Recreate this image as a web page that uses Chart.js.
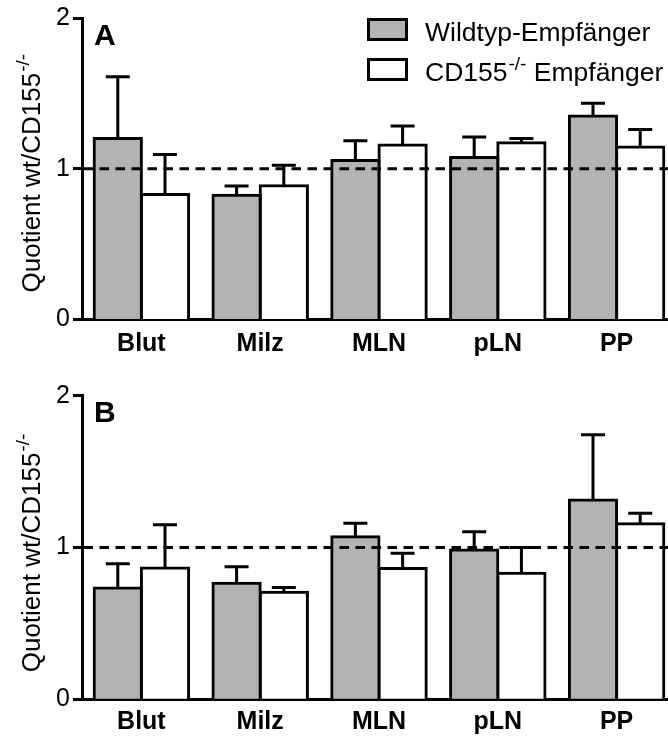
<!DOCTYPE html>
<html>
<head>
<meta charset="utf-8">
<script src="https://cdn.jsdelivr.net/npm/chart.js@4/dist/chart.umd.min.js"></script>
<style>
  html, body { margin: 0; padding: 0; background: #fff; }
  #wrap { position: relative; width: 668px; height: 736px; overflow: hidden; background: #fff; }
  #wrap canvas { position: absolute; left: 0; }
  #panelA { top: 0; }
  #panelB { top: 370px; }
</style>
</head>
<body>
<div id="wrap">
  <canvas id="panelA" width="700" height="370"></canvas>
  <canvas id="panelB" width="700" height="366"></canvas>
</div>
<script>
// Organs (x categories)
const organs = ['Blut', 'Milz', 'MLN', 'pLN', 'PP'];
const yTicks = [0, 1, 2];

// Panel A: mean ratio wt/CD155-/- and SEM
const aWildtyp = [1.20, 0.825, 1.055, 1.075, 1.35];
const aWildtypErr = [0.41, 0.06, 0.13, 0.135, 0.085];
const aKnockout = [0.83, 0.888, 1.158, 1.173, 1.145];
const aKnockoutErr = [0.265, 0.135, 0.125, 0.027, 0.115];

// Panel B: mean ratio wt/CD155-/- and SEM
const bWildtyp = [0.733, 0.764, 1.07, 0.983, 1.313];
const bWildtypErr = [0.16, 0.11, 0.09, 0.12, 0.43];
const bKnockout = [0.865, 0.706, 0.862, 0.83, 1.156];
const bKnockoutErr = [0.285, 0.03, 0.10, 0.17, 0.07];

const FONT = '"Liberation Sans", Arial, Helvetica, sans-serif';
const GREY = '#b3b3b3';
const LW = 3;

// upward-only SEM whiskers with a cap
const errorBars = {
  id: 'errorBars',
  afterDatasetsDraw(chart) {
    const { ctx } = chart;
    const y = chart.scales.y;
    chart.data.datasets.forEach((ds, di) => {
      const meta = chart.getDatasetMeta(di);
      meta.data.forEach((bar, i) => {
        const top = y.getPixelForValue(ds.data[i] + ds.errors[i]);
        const base = y.getPixelForValue(ds.data[i]);
        ctx.save();
        ctx.strokeStyle = '#000';
        ctx.lineWidth = LW;
        ctx.lineCap = 'butt';
        ctx.beginPath();
        ctx.moveTo(bar.x, base);
        ctx.lineTo(bar.x, top);
        ctx.moveTo(bar.x - 12, top);
        ctx.lineTo(bar.x + 12, top);
        ctx.stroke();
        ctx.restore();
      });
    });
  }
};

// dashed reference line at ratio 1
const refLine = {
  id: 'refLine',
  afterDatasetsDraw(chart) {
    const { ctx, chartArea } = chart;
    const yp = chart.scales.y.getPixelForValue(1);
    ctx.save();
    ctx.strokeStyle = '#000';
    ctx.lineWidth = LW;
    ctx.setLineDash([9.5, 6.5]);
    ctx.beginPath();
    ctx.moveTo(chartArea.left + 1.5, yp);
    ctx.lineTo(chartArea.right, yp);
    ctx.stroke();
    ctx.restore();
  }
};

// rotated y title with superscript, panel letter, optional legend
const decorations = {
  id: 'decorations',
  afterDraw(chart, args, opts) {
    const { ctx, chartArea } = chart;
    ctx.save();
    ctx.fillStyle = '#000';
    // y title
    ctx.save();
    ctx.translate(40, chartArea.bottom - 27);
    ctx.rotate(-Math.PI / 2);
    ctx.textAlign = 'left';
    ctx.textBaseline = 'alphabetic';
    ctx.font = '26px ' + FONT;
    const main = 'Quotient wt/CD155';
    ctx.fillText(main, 0, 0);
    const w = ctx.measureText(main).width;
    ctx.font = '19px ' + FONT;
    ctx.fillText('-/-', w + 1, -11);
    ctx.restore();

    // panel letter
    ctx.font = 'bold 30px ' + FONT;
    ctx.textAlign = 'left';
    ctx.textBaseline = 'alphabetic';
    ctx.fillText(opts.letter, 94, chartArea.top + opts.letterOffset);

    // legend
    if (opts.legend) {
      const rows = [
        { fill: GREY, y: 19.5, text: 'Wildtyp-Empfänger', sup: null, tail: '' },
        { fill: '#fff', y: 59.5, text: 'CD155', sup: '-/-', tail: ' Empfänger' }
      ];
      rows.forEach(r => {
        ctx.fillStyle = r.fill;
        ctx.fillRect(368.5, r.y, 38, 20);
        ctx.strokeStyle = '#000';
        ctx.lineWidth = LW;
        ctx.strokeRect(368.5, r.y, 38, 20);
        ctx.fillStyle = '#000';
        ctx.font = '26.5px ' + FONT;
        const base = r.y + 21;
        ctx.fillText(r.text, 425, base);
        if (r.sup) {
          let x = 425 + ctx.measureText(r.text).width + 1;
          ctx.font = '19px ' + FONT;
          ctx.fillText(r.sup, x, base - 11);
          x += ctx.measureText(r.sup).width;
          ctx.font = '26.5px ' + FONT;
          ctx.fillText(r.tail, x, base);
        }
      });
    }
    ctx.restore();
  }
};

function makePanel(id, wt, wtErr, ko, koErr, cfg) {
  const canvas = document.getElementById(id);
  const H = canvas.height;
  return new Chart(canvas, {
    type: 'bar',
    data: {
      labels: organs,
      datasets: [
        { label: 'Wildtyp-Empfänger', data: wt, errors: wtErr, backgroundColor: GREY },
        { label: 'CD155-/- Empfänger', data: ko, errors: koErr, backgroundColor: '#fff' }
      ]
    },
    options: {
      responsive: false,
      animation: false,
      devicePixelRatio: 1,
      layout: { padding: { top: cfg.top, right: 24, left: 0, bottom: 0 } },
      datasets: {
        bar: {
          borderColor: '#000',
          borderWidth: LW,
          borderSkipped: 'start',
          inflateAmount: LW / 2,
          categoryPercentage: 0.795,
          barPercentage: 1
        }
      },
      plugins: {
        legend: { display: false },
        tooltip: { enabled: false },
        decorations: { letter: cfg.letter, letterOffset: cfg.letterOffset, legend: cfg.legend }
      },
      scales: {
        x: {
          z: 1,
          grid: { display: false, drawTicks: false },
          border: { display: true, color: '#000', width: LW },
          ticks: {
            color: '#000',
            padding: cfg.labelPad,
            font: { family: FONT, size: 25, weight: 'bold' }
          },
          afterFit(scale) { scale.height = H - cfg.bottom; }
        },
        y: {
          z: 1,
          min: 0,
          max: 2,
          afterBuildTicks(scale) { scale.ticks = yTicks.map(v => ({ value: v })); },
          grid: { drawOnChartArea: false, drawTicks: true, tickLength: 9, tickWidth: LW, tickColor: '#000' },
          border: { display: true, color: '#000', width: LW },
          ticks: {
            color: '#000',
            padding: 3,
            font: { family: FONT, size: 25 }
          },
          afterFit(scale) { scale.width = 82; }
        }
      }
    },
    plugins: [errorBars, refLine, decorations]
  });
}

makePanel('panelA', aWildtyp, aWildtypErr, aKnockout, aKnockoutErr,
  { top: 16, bottom: 319.5, labelPad: 10, letter: 'A', letterOffset: 26.5, legend: true });
makePanel('panelB', bWildtyp, bWildtypErr, bKnockout, bKnockoutErr,
  { top: 25.7, bottom: 329.3, labelPad: 8, letter: 'B', letterOffset: 26, legend: false });
</script>
</body>
</html>
